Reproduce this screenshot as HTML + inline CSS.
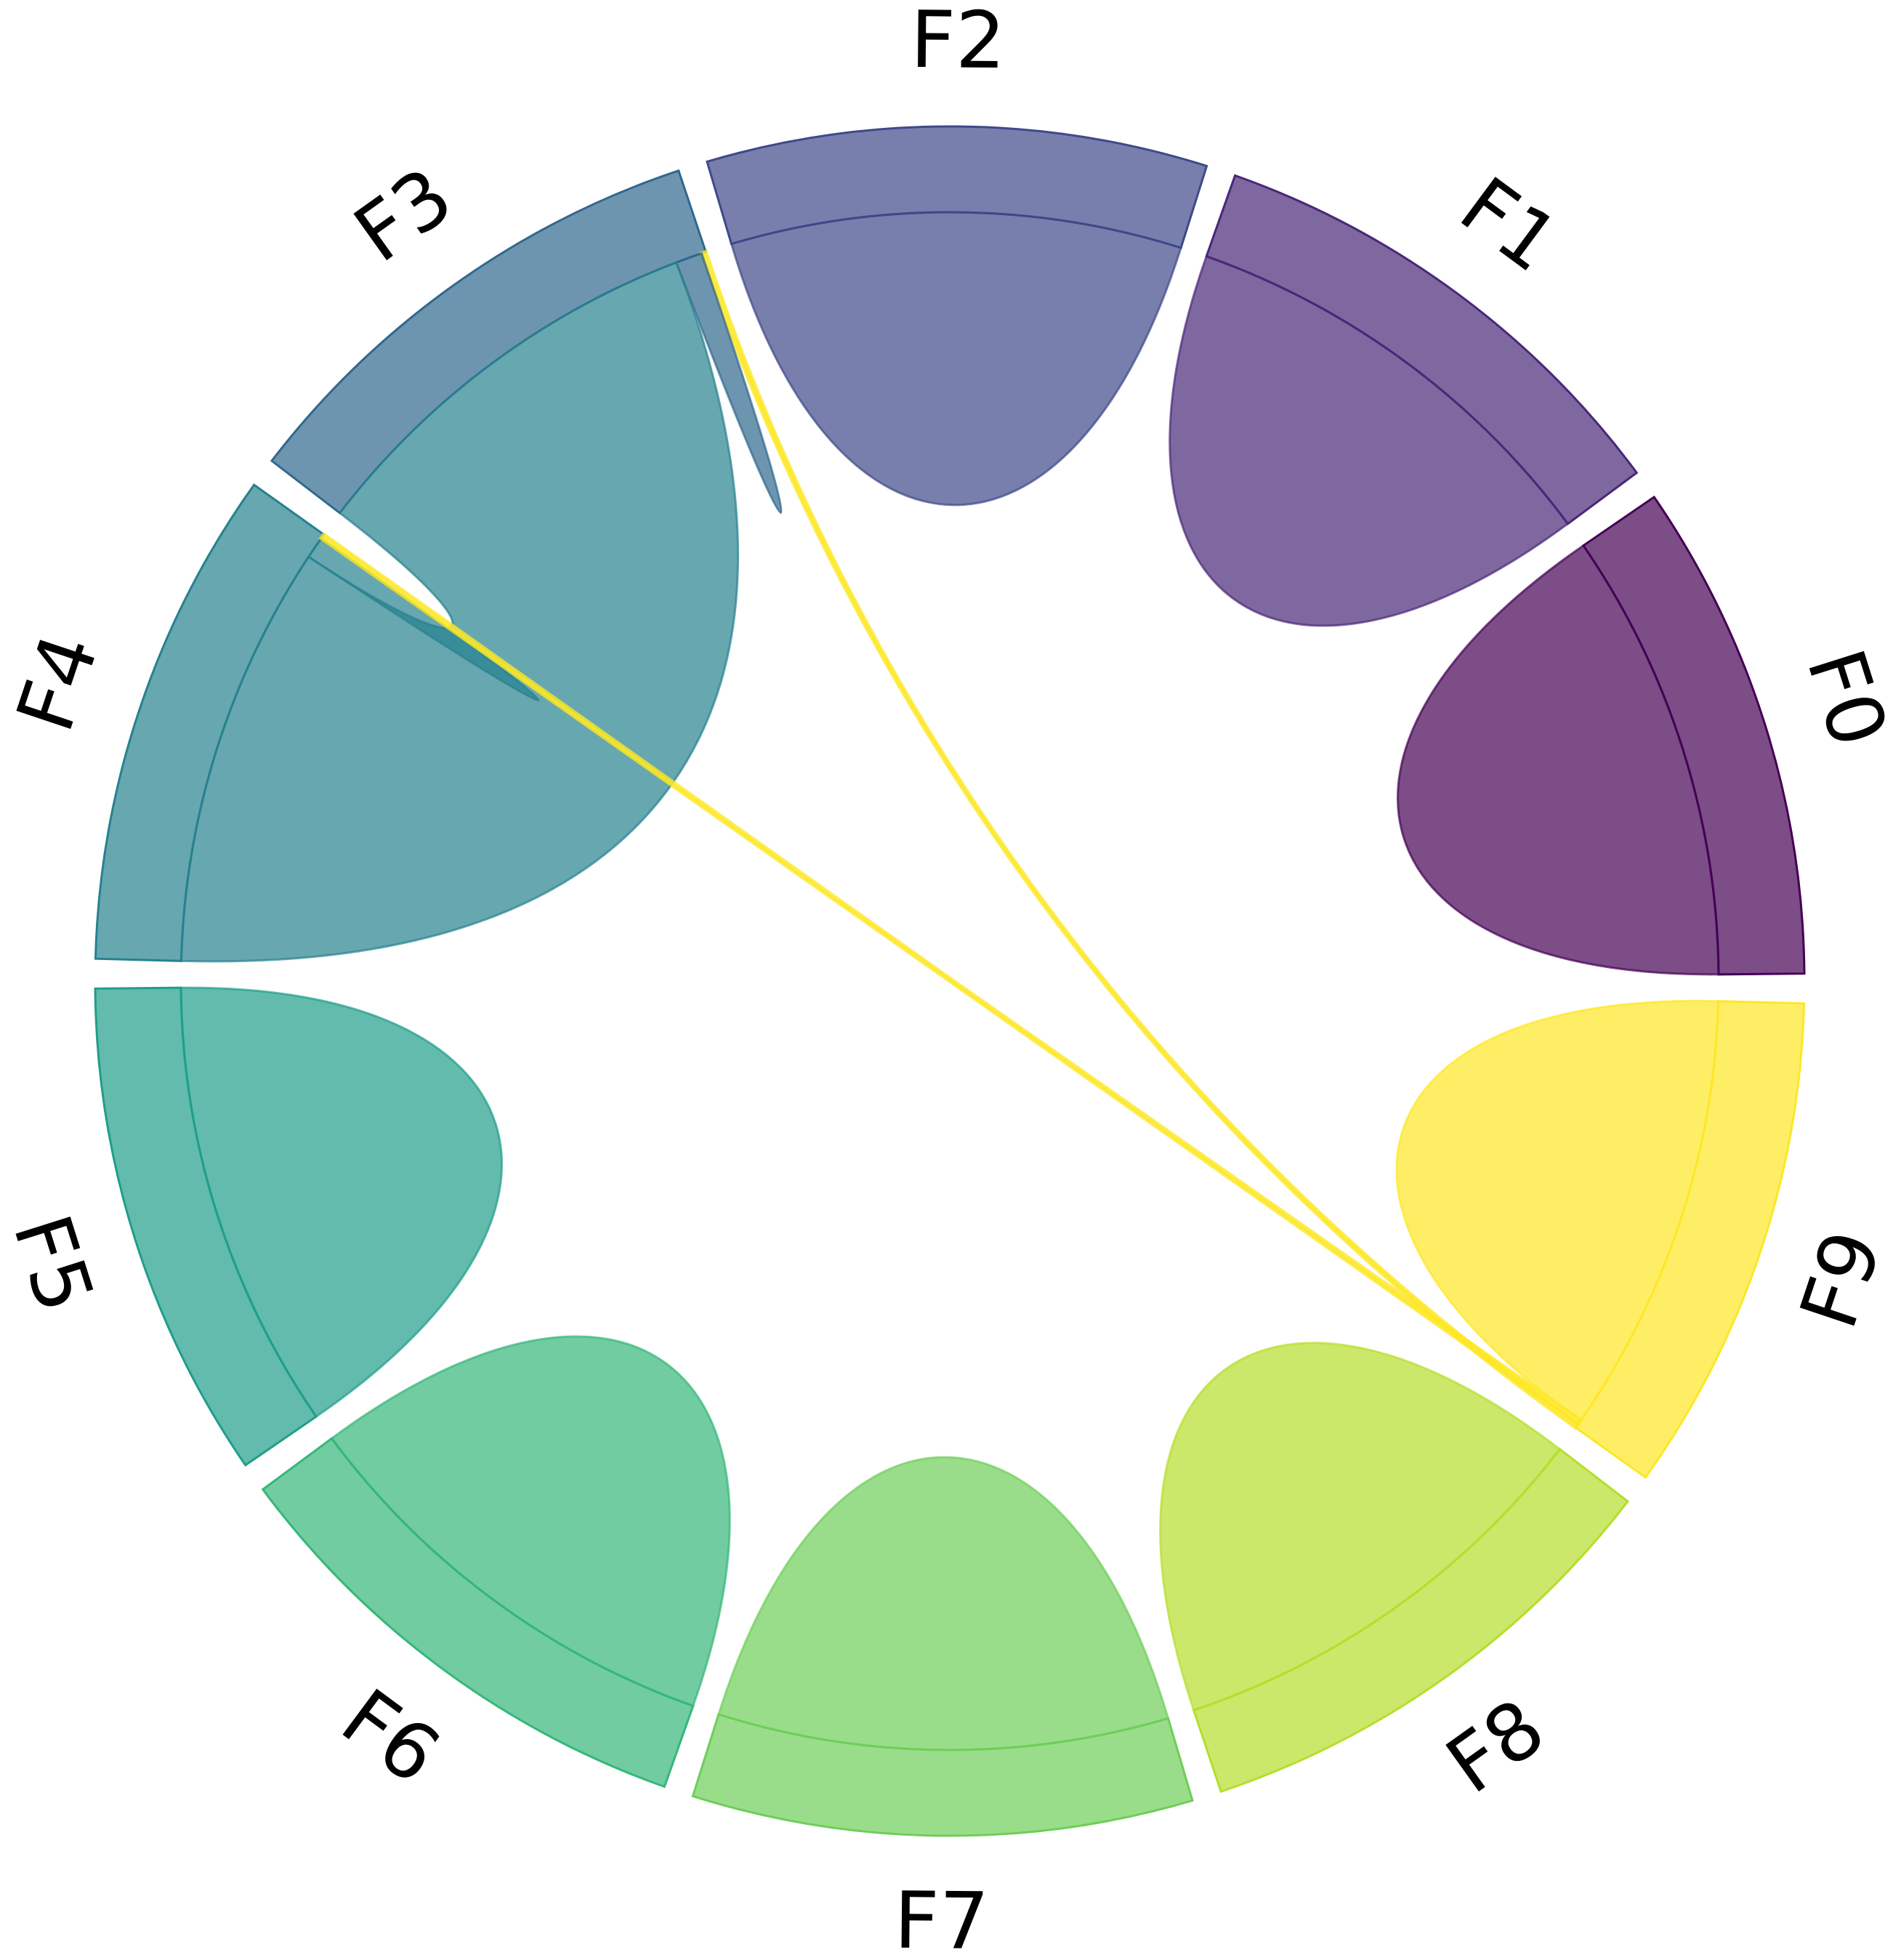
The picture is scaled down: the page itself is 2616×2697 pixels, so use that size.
<!DOCTYPE html>
<html><head><meta charset="utf-8"><style>
html,body{margin:0;padding:0;background:#fff;}
svg{display:block;}
text{font-family:"DejaVu Sans","Liberation Sans",sans-serif;}
</style></head><body>
<svg id="chart" width="2616" height="2697" viewBox="0 0 2616 2697" xmlns="http://www.w3.org/2000/svg">
<g id="bands"></g>
<g id="chords"></g>
<g id="labels"></g>
</svg>
<script>
const groupNames = ["F0","F1","F2","F3","F4","F5","F6","F7","F8","F9"];
const groupColors = ["#440154","#482878","#3e4989","#31688e","#26828e","#1f9e89","#35b779","#6ece58","#b5de2b","#fde725"];
// flows: source group, target group, value at source end, value at target end
const chordA = [0,1,2,5,6,7,8,9,9,3,4,3,9];
const chordB = [0,1,2,5,6,7,8,9,3,3,4,4,4];
const valueA = [100,100,100,100,100,100,100,100,1,6,5,95,1];
const valueB = [100,100,100,100,100,100,100,100,1,6,5,96,1];
// flow order within each group
const groupOrder = [[0],[1],[2],[8,9,11],[12,10,11],[3],[4],[5],[6],[8,12,7]];

const CX=1307, CY=1350, RO=1176, RI=1058, RT=1294;
const SPAN=34, OFF=0.5;
const svgNS="http://www.w3.org/2000/svg";
const rad=a=>a*Math.PI/180;
const P=(a,r)=>[CX+r*Math.cos(rad(a)), CY-r*Math.sin(rad(a))];
const f=p=>p[0].toFixed(1)+","+p[1].toFixed(1);

const seg={};
groupOrder.forEach((list,g)=>{
  let items=[];
  list.forEach(fi=>{
    if(chordA[fi]===g && chordB[fi]===g){items.push([fi,'s',valueA[fi]]);}
    else if(chordA[fi]===g){items.push([fi,'a',valueA[fi]]);}
    else {items.push([fi,'b',valueB[fi]]);}
  });
  const tot=items.reduce((s,i)=>s+i[2],0);
  let a=36*g+OFF;
  items.forEach(it=>{const w=it[2]/tot*SPAN; seg[it[0]+it[1]]=[a,a+w]; a+=w;});
});

const bands=document.getElementById('bands');
groupNames.forEach((n,g)=>{
  const a1=36*g+OFF, a2=a1+SPAN;
  const p=document.createElementNS(svgNS,'path');
  p.setAttribute('d',`M${f(P(a1,RO))} A${RO},${RO} 0 0 0 ${f(P(a2,RO))} L${f(P(a2,RI))} A${RI},${RI} 0 0 1 ${f(P(a1,RI))} Z`);
  p.setAttribute('fill',groupColors[g]); p.setAttribute('fill-opacity','0.7');
  p.setAttribute('stroke',groupColors[g]); p.setAttribute('stroke-width','3');
  
  
  bands.appendChild(p);
  const am=(a1+a2)/2;
  const t=document.createElementNS(svgNS,'text');
  const tp=P(am,RT);
  let rot=90-am; if(am>180) rot=270-am;
  t.setAttribute('x',tp[0].toFixed(1)); t.setAttribute('y',tp[1].toFixed(1));
  t.setAttribute('text-anchor','middle'); t.setAttribute('dominant-baseline','central');
  t.setAttribute('font-size','108'); t.setAttribute('fill','#000');
  t.setAttribute('transform',`rotate(${rot.toFixed(1)} ${tp[0].toFixed(1)} ${tp[1].toFixed(1)})`);
  t.textContent=n;
  
  
  document.getElementById('labels').appendChild(t);
});

const chords=document.getElementById('chords');
const KS=0.53;
function kc(a,b){let d=Math.abs(a-b)%360; if(d>180)d=360-d; return Math.max(0.35,0.75-0.0055*d);}
chordA.forEach((ga,i)=>{
  const gb=chordB[i];
  let d;
  if(ga===gb){
    const [a1,a2]=seg[i+'s'];
    d=`M${f(P(a1,RI))} A${RI},${RI} 0 0 0 ${f(P(a2,RI))} C${f(P(a2,RI*KS))} ${f(P(a1,RI*KS))} ${f(P(a1,RI))} Z`;
  } else {
    const [a1,a2]=seg[i+'a']; const [b1,b2]=seg[i+'b'];
    const k1=kc(a2,b1), k2=kc(b2,a1);
    d=`M${f(P(a1,RI))} A${RI},${RI} 0 0 0 ${f(P(a2,RI))} C${f(P(a2,RI*k1))} ${f(P(b1,RI*k1))} ${f(P(b1,RI))} A${RI},${RI} 0 0 0 ${f(P(b2,RI))} C${f(P(b2,RI*k2))} ${f(P(a1,RI*k2))} ${f(P(a1,RI))} Z`;
  }
  const thin=(valueA[i]<=1);
  const col=thin?groupColors[9]:groupColors[ga===gb?ga:Math.max(ga,gb)];
  const p=document.createElementNS(svgNS,'path');
  p.setAttribute('d',d);
  p.setAttribute('fill',col); p.setAttribute('fill-opacity','0.7');
  p.setAttribute('stroke',col); p.setAttribute('stroke-width',thin?'5':'3');
  p.setAttribute('stroke-opacity',thin?'0.8':'0.7');
  
  
  chords.appendChild(p);
});
</script>
</body></html>
